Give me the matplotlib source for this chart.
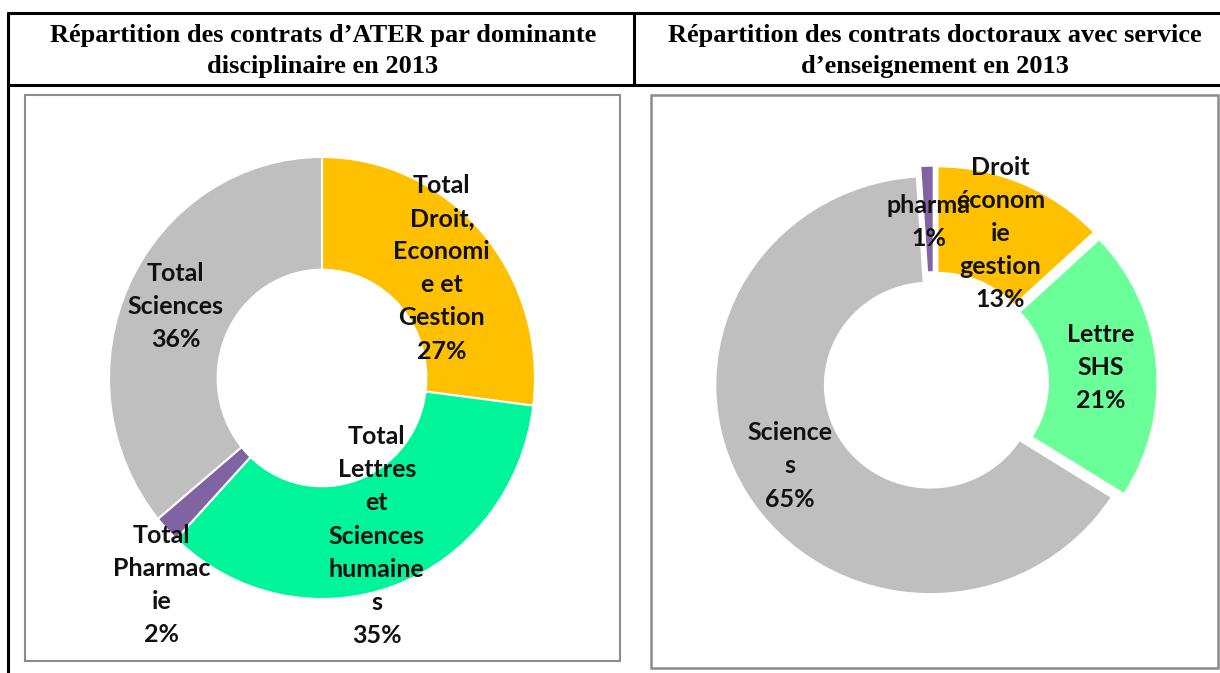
import numpy as np
import matplotlib.pyplot as plt
from matplotlib.lines import Line2D
from matplotlib.patches import Rectangle

# ATER contracts 2013
ater_labels = ["Total\nDroit,\nEconomi\ne et\nGestion\n27%",
               "Total\nLettres\net\nSciences\nhumaine\ns\n35%",
               "Total\nPharmac\nie\n2%",
               "Total\nSciences\n36%"]
ater_values = [27, 35, 2, 36]
ater_colors = ["#FFC000", "#00F59B", "#8064A2", "#BFBFBF"]

# doctoral contracts with teaching, 2013
doc_labels = ["Droit\néconom\nie\ngestion\n13%",
              "Lettre\nSHS\n21%",
              "Science\ns\n65%",
              "pharma\n1%"]
doc_values = [13, 21, 65, 1]
doc_colors = ["#FFC000", "#6BFF99", "#BFBFBF", "#8064A2"]

titles = ["Répartition des contrats d’ATER par dominante\ndisciplinaire en 2013",
          "Répartition des contrats doctoraux avec service\nd’enseignement en 2013"]

W, H = 1220, 673
fig = plt.figure(figsize=(W / 100, H / 100), dpi=100)

# background axes in pixel coords for the table frame
bg = fig.add_axes([0, 0, 1, 1])
bg.set_xlim(0, W)
bg.set_ylim(H, 0)
bg.axis("off")

blk = dict(color="black", lw=2.2, solid_capstyle="butt")
bg.add_line(Line2D([7, W], [13, 13], **blk))
bg.add_line(Line2D([7, W], [85, 85], **blk))
bg.add_line(Line2D([8, 8], [12, H], **blk))
bg.add_line(Line2D([634, 634], [12, 86], **blk))

bg.add_patch(Rectangle((25, 95), 595, 566, fill=False, ec="#8c8c8c", lw=1.5))
bg.add_patch(Rectangle((651, 95), 567, 573, fill=False, ec="#8c8c8c", lw=1.8))

for cx, t in zip([323, 935], titles):
    bg.text(cx, 51, t, ha="center", va="center", fontsize=19,
            family="Liberation Serif", fontweight="bold", linespacing=1.4)


def donut(cx, cy, rx, ry, values, colors, labels, explode, dists, shift=None):
    ax = fig.add_axes([(cx - 1.2 * rx) / W, (H - cy - 1.2 * ry) / H,
                       2.4 * rx / W, 2.4 * ry / H])
    wedges, texts = ax.pie(values, colors=colors, startangle=90, counterclock=False,
                           explode=explode, labels=labels, labeldistance=0.76,
                           wedgeprops=dict(width=0.51, edgecolor="white", linewidth=1.5),
                           textprops=dict(fontsize=18, family="Lato", fontweight="bold",
                                          color="#111111", ha="center", va="center",
                                          linespacing=1.53))
    ax.set_xlim(-1.2, 1.2)
    ax.set_ylim(-1.2, 1.2)
    ax.set_aspect("auto")
    for w, t, d in zip(wedges, texts, dists):
        ang = np.deg2rad((w.theta1 + w.theta2) / 2)
        if shift is not None and t.get_text() in shift:
            ang += np.deg2rad(shift[t.get_text()])
        t.set_position((d * np.cos(ang), d * np.sin(ang)))
        t.set_ha("center")
    return ax


donut(322, 378, 213, 221, ater_values, ater_colors, ater_labels,
      [0, 0, 0, 0], [0.75, 0.76, 1.2, 0.76], shift={ater_labels[2]: 8})
donut(934, 383, 215, 209, doc_values, doc_colors, doc_labels,
      [0.04, 0.04, 0.02, 0.04], [0.78, 0.78, 0.78, 0.77])

fig.savefig("out.png", dpi=100)
